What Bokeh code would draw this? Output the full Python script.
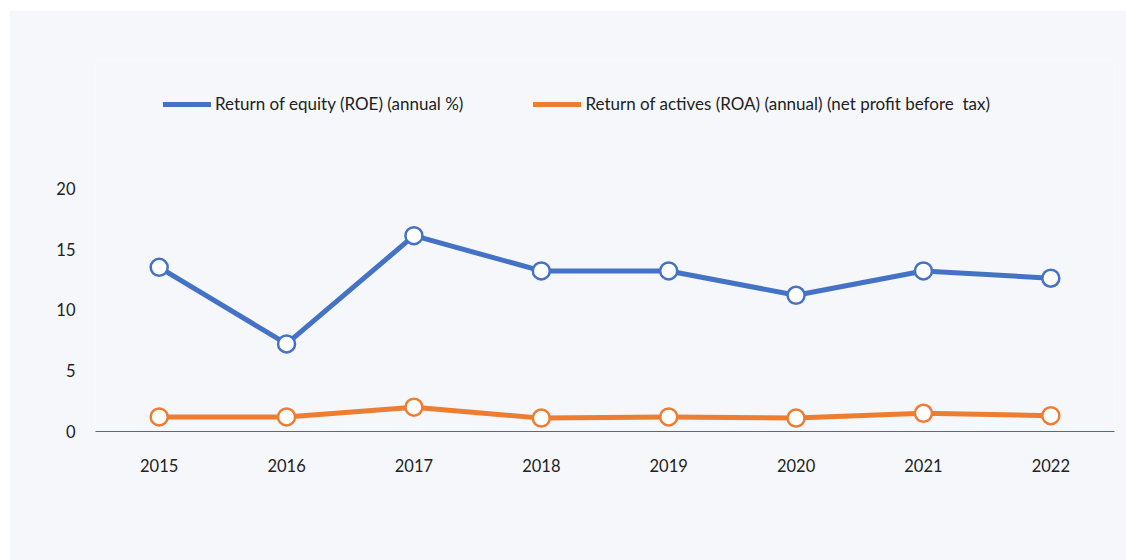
from bokeh.plotting import figure
from bokeh.models import ColumnDataSource, Legend, LegendItem, FactorRange, Range1d, FixedTicker
from bokeh.embed import file_html
from bokeh.resources import INLINE

years = ["2015", "2016", "2017", "2018", "2019", "2020", "2021", "2022"]
roe = [13.5, 7.2, 16.1, 13.2, 13.2, 11.2, 13.2, 12.6]
roa = [1.2, 1.2, 2.0, 1.1, 1.2, 1.1, 1.5, 1.3]
roe_label = "Return of equity (ROE) (annual %)"
roa_label = "Return of actives (ROA) (annual) (net profit before  tax)"
y_ticks = [0, 5, 10, 15, 20]

BG = "#f5f7fb"
BLUE = "#4472c4"
ORANGE = "#ed7d31"
FONT = "Lato"

src = ColumnDataSource(dict(year=years, roe=roe, roa=roa))

p = figure(width=1117, height=550, x_range=FactorRange(*years, range_padding=0),
           y_range=Range1d(0, 30.5), output_backend="svg", toolbar_location=None,
           background_fill_color=BG, border_fill_color=BG,
           min_border_left=86, min_border_right=12, min_border_top=50, min_border_bottom=129)
p.margin = (10, 0, 0, 9)
p.outline_line_color = None
p.grid.visible = False

r1 = p.line("year", "roe", source=src, color=BLUE, line_width=5, line_join="round", line_cap="round")
r2 = p.line("year", "roa", source=src, color=ORANGE, line_width=5, line_join="round", line_cap="round")
p.scatter("year", "roe", source=src, size=17, fill_color="white", line_color=BLUE, line_width=2.5)
p.scatter("year", "roa", source=src, size=17, fill_color="white", line_color=ORANGE, line_width=2.5)

p.yaxis.ticker = FixedTicker(ticks=y_ticks)
p.yaxis.axis_line_color = None
p.yaxis.major_tick_line_color = None
p.yaxis.minor_tick_line_color = None
p.yaxis.major_tick_out = 0
p.yaxis.major_label_standoff = 20
p.xaxis.axis_line_color = "#2e75b6"
p.xaxis.axis_line_width = 1.2
p.xaxis.major_tick_line_color = None
p.xaxis.major_tick_out = 0
p.xaxis.major_label_standoff = 27
for ax in (p.xaxis, p.yaxis):
    ax.major_label_text_font = FONT
    ax.major_label_text_font_size = "16.5px"
    ax.major_label_text_color = "#222222"

legend = Legend(items=[LegendItem(label=roe_label, renderers=[r1]),
                       LegendItem(label=roa_label, renderers=[r2])],
                orientation="horizontal", location=(68, 317),
                glyph_width=48, glyph_height=20, label_standoff=4, spacing=70,
                padding=0, margin=0, border_line_color=None, background_fill_alpha=0,
                label_text_font=FONT, label_text_font_size="17px", label_text_color="#222222")
p.add_layout(legend, "center")

open("out.html", "w").write(file_html(p, INLINE))
